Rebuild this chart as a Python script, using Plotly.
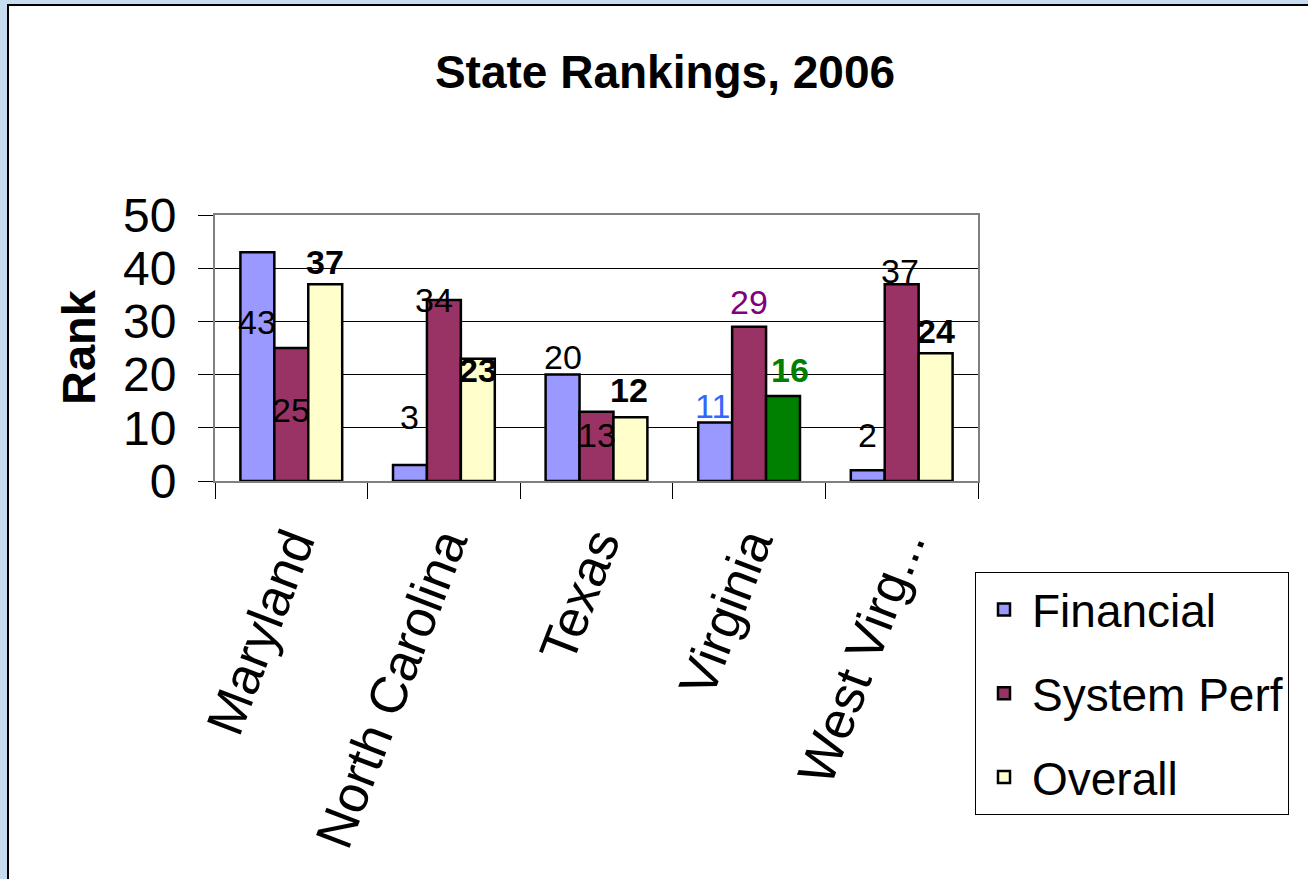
import plotly.graph_objects as go

states = ["Maryland", "North Carolina", "Texas", "Virginia", "West Virg..."]
financial = [43, 3, 20, 11, 2]
system_perf = [25, 34, 13, 29, 37]
overall = [37, 23, 12, 16, 24]
series_names = ["Financial", "System Perf", "Overall"]
y_ticks = [0, 10, 20, 30, 40, 50]

W, H = 1308, 879
L, R, T, B = 215, 978, 215, 481  # plot area pixel box
FONT = "Liberation Sans, Arial, sans-serif"

fin_color = "#9999FF"
sys_color = "#993366"
ovr_colors = ["#FFFFCC", "#FFFFCC", "#FFFFCC", "#008000", "#FFFFCC"]

fig = go.Figure()
fig.add_trace(go.Bar(name=series_names[0], x=states, y=financial, legendgroup="g0",
                     marker=dict(color=fin_color, line=dict(color="black", width=2.5))))
fig.add_trace(go.Bar(name=series_names[1], x=states, y=system_perf, legendgroup="g1",
                     marker=dict(color=sys_color, line=dict(color="black", width=2.5))))
fig.add_trace(go.Bar(name=series_names[2], x=states, y=overall, legendgroup="g2",
                     marker=dict(color=ovr_colors, line=dict(color="black", width=2.5))))

# data label placement (pixel offsets relative to bar top / category centre)
label_dx = [[-34, 0, 34], [-34, -10, 34], [-34, 0, 32], [-37, 0, 41], [-34, -2, 34]]
label_dy = [[-70, -62, 22], [48, 0, -11], [18, -23, 27], [16, 25, 26], [35, 13, 22]]
label_colors = [["black", "black", "black"], ["black", "black", "black"],
                ["black", "black", "black"], ["#3366FF", "#800080", "#008000"],
                ["black", "black", "black"]]
series = [financial, system_perf, overall]
for i, st in enumerate(states):
    for j in range(3):
        v = series[j][i]
        bold = j == 2
        fig.add_annotation(x=st, y=v, xref="x", yref="y", text=f"<b>{v}</b>" if bold else str(v),
                           showarrow=False, xshift=label_dx[i][j], yshift=label_dy[i][j],
                           yanchor="middle", xanchor="center",
                           font=dict(family=FONT, size=34, color=label_colors[i][j]))

pw, ph = R - L, B - T
def px(xp):
    return (xp - L) / pw
def py(yp):
    return (B - yp) / ph

# white slide panel with black border
fig.add_shape(type="rect", xref="paper", yref="paper", x0=px(8), x1=px(1330), y0=py(900), y1=py(5),
              line=dict(color="black", width=2), fillcolor="white", layer="below")

fig.add_annotation(text="<b>Rank</b>", xref="paper", yref="paper", x=px(78), y=py(347),
                   xanchor="center", yanchor="middle",
                   textangle=-90, showarrow=False, font=dict(family=FONT, size=47, color="black"))

fig.update_layout(
    width=W, height=H,
    margin=dict(l=L, r=W - R, t=T, b=H - B, autoexpand=False),
    paper_bgcolor="#C8DCF0", plot_bgcolor="white",
    barmode="group", bargap=0.333, bargroupgap=0,
    title=dict(text="<b>State Rankings, 2006</b>", x=665 / W, y=1 - 72 / H, xref="container",
               yref="container", xanchor="center", yanchor="middle",
               font=dict(family=FONT, size=46, color="black")),
    showlegend=True,
    legend=dict(x=px(975), y=py(572), xanchor="left", yanchor="top",
                bgcolor="white", bordercolor="black", borderwidth=1,
                font=dict(family=FONT, size=46, color="black"),
                tracegroupgap=21, itemwidth=46,
                traceorder="grouped"),
    xaxis=dict(type="category", tickson="boundaries", ticks="outside", ticklen=16,
               tickcolor="black", tickwidth=1, showline=True, linecolor="#808080", linewidth=2,
               mirror=True, tickangle=-69, showgrid=False, ticklabelstandoff=10,
               tickfont=dict(family=FONT, size=52, color="black"), automargin=False),
    yaxis=dict(range=[0, 50], tickvals=y_ticks, ticks="outside", ticklen=15, tickcolor="black",
               showline=True, linecolor="#808080", linewidth=2, mirror=True,
               showgrid=True, gridcolor="black", gridwidth=1, zeroline=False,
               ticklabelstandoff=12,
               tickfont=dict(family=FONT, size=48, color="black"), automargin=False),
    font=dict(family=FONT),
)

fig.write_html("out.html", config={"displayModeBar": False},
               post_script="document.body.style.margin='0';")
